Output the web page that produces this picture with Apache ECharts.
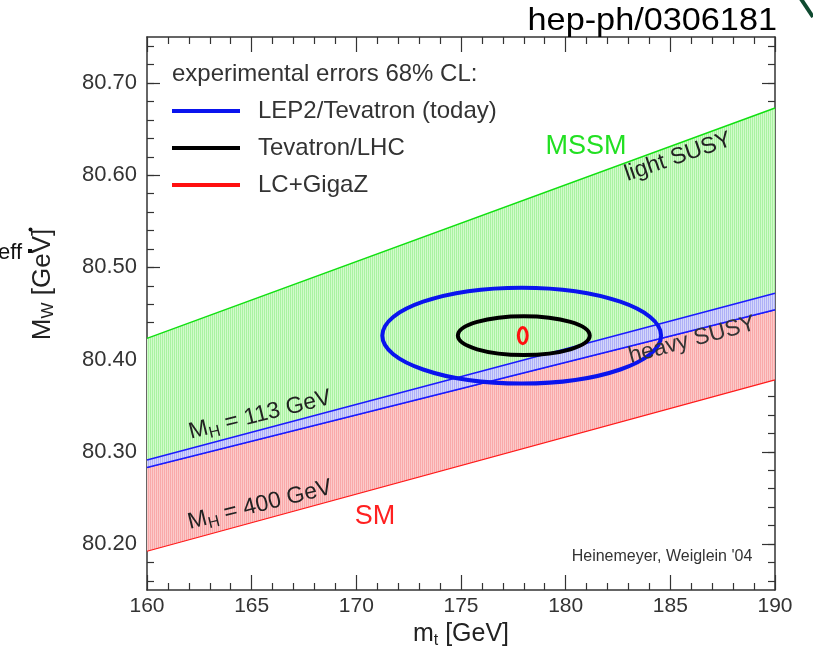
<!DOCTYPE html>
<html lang="en">
<head>
<meta charset="UTF-8">
<title>MW vs mt</title>
<script src="https://cdn.jsdelivr.net/npm/echarts@6/dist/echarts.min.js"></script>
<style>html,body{margin:0;padding:0;background:#fff}</style>
</head>
<body>
<div id="chart" style="width:813px;height:647px;"></div>
<script>
// band edges, read at mt = 160 and 190 GeV
var mtEdge = [160, 190];
var smLow = [80.192, 80.378];        // M_H = 400 GeV
var smHigh = [80.283, 80.454];       // M_H = 113 GeV
var overlapHigh = [80.291, 80.472];  // top of SM/MSSM overlap
var mssmHigh = [80.423, 80.673];     // light SUSY

// 68% CL ellipses: centre and half axes
var ellipseNames = ['LEP2/Tevatron (today)', 'Tevatron/LHC', 'LC+GigaZ'];
var ellipseMt = [177.9, 178.0, 177.95];
var ellipseMw = [80.426, 80.426, 80.426];
var ellipseDmt = [6.66, 3.15, 0.21];
var ellipseDmw = [0.052, 0.021, 0.0087];

var yMajor = [80.20, 80.30, 80.40, 80.50, 80.60, 80.70];
var yMinor = [80.16, 80.18, 80.20, 80.22, 80.24, 80.26, 80.28, 80.30, 80.32, 80.34,
              80.36, 80.38, 80.40, 80.42, 80.44, 80.46, 80.48, 80.50, 80.52, 80.54,
              80.56, 80.58, 80.60, 80.62, 80.64, 80.66, 80.68, 80.70, 80.72, 80.74];

var FONT = '"Liberation Sans", Arial, Helvetica, sans-serif';

// fine vertical hatching like the printed plot
function stripes(c1, c2) {
    var cv = document.createElement('canvas');
    cv.width = 2; cv.height = 2;
    var ctx = cv.getContext('2d');
    ctx.fillStyle = c1; ctx.fillRect(0, 0, 2, 2);
    ctx.fillStyle = c2; ctx.fillRect(1, 0, 1, 2);
    return {image: cv, repeat: 'repeat'};
}

function band(lo, hi, fill, loColor, hiColor, lineW) {
    return {
        type: 'custom',
        silent: true,
        data: mtEdge.map(function (m, i) { return [m, lo[i], hi[i]]; }),
        encode: {x: 0, y: [1, 2]},
        renderItem: function (params, api) {
            if (params.dataIndex !== 0) return null;
            var low = mtEdge.map(function (m, i) { return api.coord([m, lo[i]]); });
            var high = mtEdge.map(function (m, i) { return api.coord([m, hi[i]]); });
            var kids = [{type: 'polygon', shape: {points: low.concat(high.slice().reverse())}, style: {fill: fill}}];
            if (loColor) kids.push({type: 'polyline', shape: {points: low}, style: {stroke: loColor, lineWidth: lineW, fill: null}});
            if (hiColor) kids.push({type: 'polyline', shape: {points: high}, style: {stroke: hiColor, lineWidth: lineW, fill: null}});
            return {type: 'group', children: kids};
        }
    };
}

var ellipseColors = ['#0a14ee', '#000000', '#ff1010'];
var ellipseWidths = [4, 4, 3];

function ellipse(i) {
    return {
        type: 'custom',
        name: ellipseNames[i],
        itemStyle: {color: ellipseColors[i]},
        data: [[ellipseMt[i], ellipseMw[i], ellipseDmt[i], ellipseDmw[i]]],
        encode: {x: 0, y: 1},
        renderItem: function (params, api) {
            var c = api.coord([api.value(0), api.value(1)]);
            var s = api.size([api.value(2), api.value(3)]);
            return {
                type: 'ellipse',
                shape: {cx: c[0], cy: c[1], rx: s[0], ry: s[1]},
                style: {fill: 'none', stroke: ellipseColors[i], lineWidth: ellipseWidths[i]}
            };
        }
    };
}

var tickLine = {color: '#333', width: 1.2};
var axisLine = {show: true, lineStyle: {color: '#333', width: 1.5}};
var DEG = Math.PI / 180;

var myChart = echarts.init(document.getElementById('chart'));

var option = {
    backgroundColor: '#fff',
    animation: false,
    textStyle: {fontFamily: FONT},
    grid: {left: 147, right: 38, top: 37, bottom: 57, outerBoundsMode: 'none'},
    title: {
        text: 'experimental errors 68% CL:',
        left: 167, top: 57,
        textStyle: {fontSize: 24, fontWeight: 'normal', color: '#333', fontFamily: FONT}
    },
    legend: {
        data: ellipseNames,
        orient: 'vertical',
        left: 167, top: 94,
        icon: 'rect',
        itemWidth: 68, itemHeight: 4,
        itemGap: 13,
        selectedMode: false,
        textStyle: {fontSize: 24, color: '#333', fontFamily: FONT, padding: [0, 0, 0, 13]}
    },
    xAxis: [{
        type: 'value', min: 160, max: 190, interval: 5,
        position: 'bottom',
        axisLine: axisLine,
        axisTick: {inside: true, length: 15, lineStyle: tickLine},
        minorTick: {show: true, splitNumber: 5, length: 7, lineStyle: tickLine},
        splitLine: {show: false},
        axisLabel: {fontSize: 21, color: '#333', margin: 6, fontFamily: FONT},
        name: '{i|m}{s|t}{i| [GeV]}',
        nameLocation: 'middle', nameGap: 26,
        nameTextStyle: {
            rich: {
                i: {fontSize: 25, color: '#222', fontFamily: FONT},
                s: {fontSize: 16, color: '#222', fontFamily: FONT, padding: [12, 0, 0, 0]}
            }
        }
    }, {
        type: 'value', min: 160, max: 190, interval: 5,
        position: 'top',
        axisLine: axisLine,
        axisTick: {inside: true, length: 15, lineStyle: tickLine},
        minorTick: {show: true, splitNumber: 5, length: 7, lineStyle: tickLine},
        splitLine: {show: false},
        axisLabel: {show: false}
    }],
    yAxis: [{
        type: 'value', min: 80.15, max: 80.75,
        position: 'left',
        axisLine: axisLine,
        axisTick: {inside: true, length: 13, lineStyle: tickLine, customValues: yMajor},
        splitLine: {show: false},
        axisLabel: {
            customValues: yMajor, fontSize: 22, color: '#333', margin: 10, fontFamily: FONT,
            formatter: function (v) { return v.toFixed(2); }
        },
        name: '{i|M}{s|W}{i| [GeV]}',
        nameLocation: 'middle', nameRotate: 90, nameGap: 90,
        nameTextStyle: {
            padding: [0, 0, 0, 58],
            rich: {
                i: {fontSize: 26, color: '#222', fontFamily: FONT},
                s: {fontSize: 17, color: '#222', fontFamily: FONT, padding: [12, 0, 0, 0]}
            }
        }
    }, {
        type: 'value', min: 80.15, max: 80.75, position: 'left', offset: 0,
        axisLine: {show: false},
        axisTick: {inside: true, length: 7, lineStyle: tickLine, customValues: yMinor},
        splitLine: {show: false},
        axisLabel: {show: false}
    }, {
        type: 'value', min: 80.15, max: 80.75, position: 'right',
        axisLine: axisLine,
        axisTick: {inside: true, length: 13, lineStyle: tickLine, customValues: yMajor},
        splitLine: {show: false},
        axisLabel: {show: false}
    }, {
        type: 'value', min: 80.15, max: 80.75, position: 'right', offset: 0,
        axisLine: {show: false},
        axisTick: {inside: true, length: 7, lineStyle: tickLine, customValues: yMinor},
        splitLine: {show: false},
        axisLabel: {show: false}
    }],
    series: [
        band(smLow, smHigh, stripes('#f9a9a9', '#fccaca'), '#ff1a1a', '#2020ff', 1.2),
        band(overlapHigh, mssmHigh, stripes('#aaf2a2', '#d2fbcb'), null, '#10e010', 1.4),
        band(smHigh, overlapHigh, stripes('#aeb0f6', '#d4d6fb'), '#1a1aff', '#1a1aff', 1.5),
        ellipse(0), ellipse(1), ellipse(2)
    ],
    graphic: [
        {type: 'text', z: 100, x: 777, y: 5, scaleX: 1.07, style: {text: 'hep-ph/0306181', font: '32px ' + FONT, fill: '#000', align: 'right', verticalAlign: 'top'}},
        {type: 'polyline', z: 100, shape: {points: [[801, -1], [813, 17]]}, style: {stroke: '#0f4a30', lineWidth: 4}},
        {type: 'text', z: 100, x: -2, y: 253, style: {text: 'eff', font: '22px ' + FONT, fill: '#111', verticalAlign: 'middle'}},
        {type: 'circle', z: 100, shape: {cx: 30.5, cy: 229.5, r: 2}, style: {fill: '#111'}},
        {type: 'rect', z: 100, shape: {x: 28, y: 249, width: 4, height: 4}, style: {fill: '#111'}},
        {type: 'text', z: 100, x: 586, y: 147, style: {text: 'MSSM', font: '27px ' + FONT, fill: '#22e022', align: 'center', verticalAlign: 'middle'}},
        {type: 'text', z: 100, x: 375, y: 517, style: {text: 'SM', font: '27px ' + FONT, fill: '#ff2020', align: 'center', verticalAlign: 'middle'}},
        {type: 'text', z: 100, x: 678, y: 157, rotation: 19 * DEG, style: {text: 'light SUSY', font: '23px ' + FONT, fill: '#222', align: 'center', verticalAlign: 'middle'}},
        {type: 'text', z: 100, x: 692, y: 340, rotation: 15 * DEG, style: {text: 'heavy SUSY', font: '23px ' + FONT, fill: '#333', align: 'center', verticalAlign: 'middle'}},
        {type: 'text', z: 100, x: 260, y: 415, rotation: 14 * DEG, style: {
            text: '{m|M}{s|H}{m| = 113 GeV}', align: 'center', verticalAlign: 'middle',
            rich: {m: {font: '23px ' + FONT, fill: '#222'}, s: {font: '16px ' + FONT, fill: '#222', padding: [12, 0, 0, 0]}}
        }},
        {type: 'text', z: 100, x: 260, y: 505, rotation: 14 * DEG, style: {
            text: '{m|M}{s|H}{m| = 400 GeV}', align: 'center', verticalAlign: 'middle',
            rich: {m: {font: '23px ' + FONT, fill: '#222'}, s: {font: '16px ' + FONT, fill: '#222', padding: [12, 0, 0, 0]}}
        }},
        {type: 'text', z: 100, x: 662, y: 557, style: {text: "Heinemeyer, Weiglein '04", font: '16px ' + FONT, fill: '#333', align: 'center', verticalAlign: 'middle'}}
    ]
};

myChart.setOption(option);
</script>
</body>
</html>
